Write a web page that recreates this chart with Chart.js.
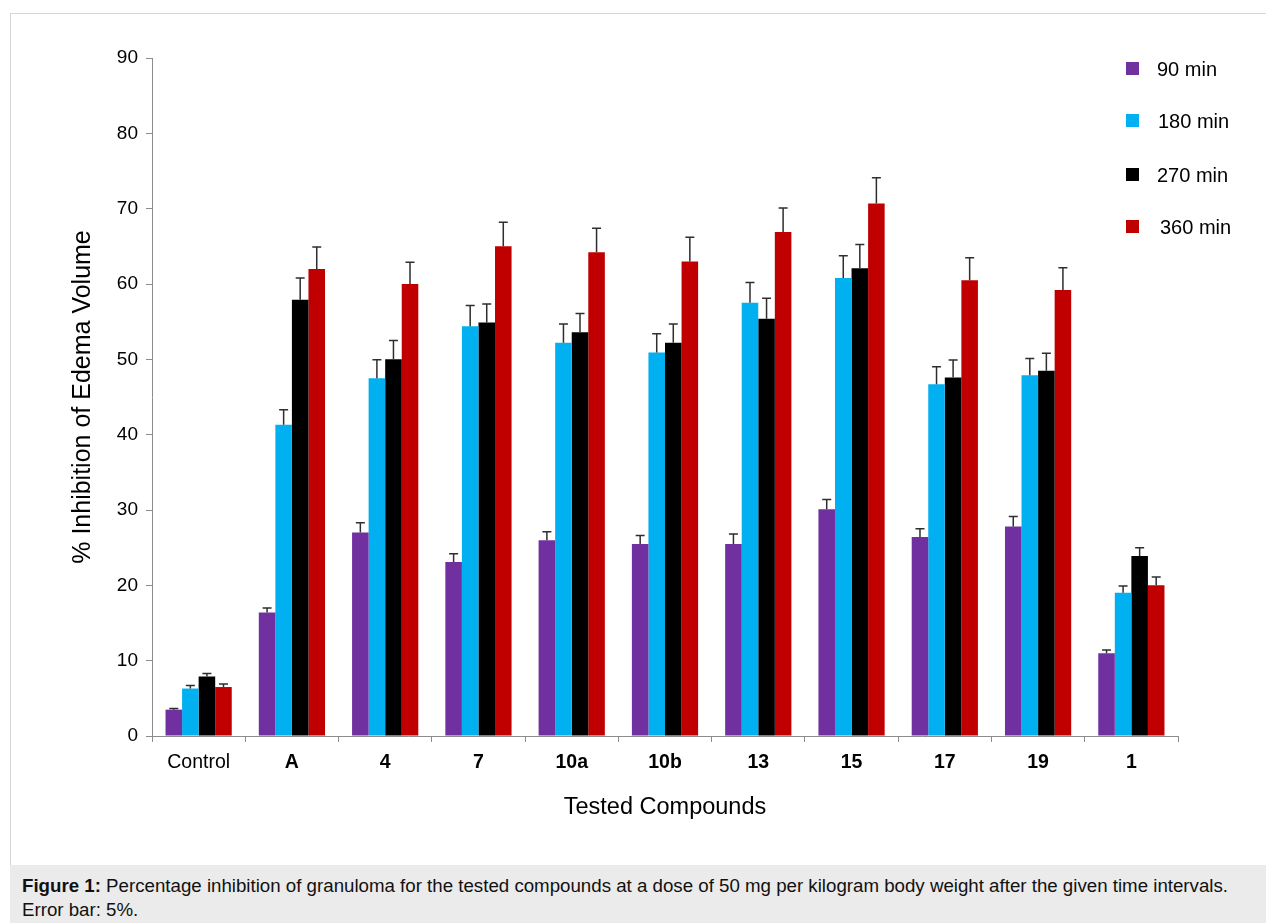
<!DOCTYPE html>
<html>
<head>
<meta charset="utf-8">
<script src="https://cdn.jsdelivr.net/npm/chart.js@4.4.1/dist/chart.umd.min.js"></script>
<style>
  body { margin: 0; background: #fff; font-family: "Liberation Sans", Arial, sans-serif; }
  #frame { position: absolute; left: 10px; top: 13px; width: 1256px; height: 852px;
           border-top: 1px solid #d6d6d6; border-left: 1px solid #d6d6d6; }
  #wrap { position: absolute; left: 0; top: 0; width: 1266px; height: 865px; }
  #caption { position: absolute; left: 10px; top: 865px; width: 1244px;
             background: #ebebeb; padding-left: 12px; padding-top: 9px; height: 49px;
             font-size: 18.7px; line-height: 24px; color: #111; }
</style>
</head>
<body>
<div id="frame"></div>
<div id="wrap"><canvas id="edemaChart"></canvas></div>
<div id="caption"><b>Figure 1:</b> Percentage inhibition of granuloma for the tested compounds at a dose of 50 mg per kilogram body weight after the given time intervals.<br>Error bar: 5%.</div>
<script>
const compounds = ['Control', 'A', '4', '7', '10a', '10b', '13', '15', '17', '19', '1'];
const yTicks = [0, 10, 20, 30, 40, 50, 60, 70, 80, 90];

const min90 = [3.5, 16.4, 27.0, 23.1, 26.0, 25.5, 25.5, 30.1, 26.4, 27.8, 11.0];
const min180 = [6.3, 41.3, 47.5, 54.4, 52.2, 50.9, 57.5, 60.8, 46.7, 47.9, 19.0];
const min270 = [7.9, 57.9, 50.0, 54.9, 53.6, 52.2, 55.4, 62.1, 47.6, 48.5, 23.9];
const min360 = [6.5, 62.0, 60.0, 65.0, 64.2, 63.0, 66.9, 70.7, 60.5, 59.2, 20.0];

const err90 = [0.15, 0.6, 1.3, 1.1, 1.1, 1.1, 1.3, 1.3, 1.1, 1.35, 0.4];
const err180 = [0.4, 2.0, 2.45, 2.75, 2.5, 2.5, 2.7, 2.95, 2.3, 2.2, 0.9];
const err270 = [0.4, 2.9, 2.5, 2.45, 2.5, 2.5, 2.7, 3.15, 2.3, 2.3, 1.1];
const err360 = [0.4, 2.9, 2.9, 3.2, 3.2, 3.2, 3.2, 3.4, 3.0, 2.95, 1.1];

const FONT = '"Liberation Sans", Arial, sans-serif';

const errorBars = {
  id: 'errorBars',
  afterDatasetsDraw(chart) {
    const ctx = chart.ctx;
    const y = chart.scales.y;
    ctx.save();
    ctx.strokeStyle = '#2e2e2e';
    ctx.lineWidth = 1.5;
    chart.data.datasets.forEach((ds, i) => {
      const meta = chart.getDatasetMeta(i);
      meta.data.forEach((bar, j) => {
        const top = y.getPixelForValue(ds.data[j] + ds.errors[j]);
        ctx.beginPath();
        ctx.moveTo(bar.x, bar.y);
        ctx.lineTo(bar.x, top);
        ctx.moveTo(bar.x - 4.5, top);
        ctx.lineTo(bar.x + 4.5, top);
        ctx.stroke();
      });
    });
    ctx.restore();
  }
};

// legend drawn in the upper right, over the plot
const sideLegend = {
  id: 'sideLegend',
  afterDraw(chart) {
    const ctx = chart.ctx;
    const rows = [69, 121, 175, 227];
    const textX = [1157, 1158, 1157, 1160];
    ctx.save();
    ctx.font = '20px ' + FONT;
    ctx.textBaseline = 'middle';
    chart.data.datasets.forEach((ds, i) => {
      ctx.fillStyle = ds.backgroundColor;
      ctx.fillRect(1126, rows[i] - 7, 13, 13);
      ctx.fillStyle = '#000';
      ctx.fillText(ds.label, textX[i], rows[i] + 1);
    });
    ctx.restore();
  }
};

const ctx = document.getElementById('edemaChart').getContext('2d');
new Chart(ctx, {
  type: 'bar',
  data: {
    labels: compounds,
    datasets: [
      { label: '90 min', backgroundColor: '#7030A0', data: min90, errors: err90 },
      { label: '180 min', backgroundColor: '#00B0F0', data: min180, errors: err180 },
      { label: '270 min', backgroundColor: '#000000', data: min270, errors: err270 },
      { label: '360 min', backgroundColor: '#C00000', data: min360, errors: err360 }
    ]
  },
  options: {
    responsive: true,
    maintainAspectRatio: false,
    animation: false,
    categoryPercentage: 0.71,
    barPercentage: 1.0,
    layout: { padding: { left: 64, right: 88, top: 58, bottom: 39 } },
    plugins: {
      legend: { display: false },
      tooltip: { enabled: false }
    },
    scales: {
      x: {
        afterFit: (s) => { s.height = 90; },
        border: { color: '#8c8c8c', width: 1 },
        grid: { offset: true, drawOnChartArea: false, tickLength: 6, color: '#8c8c8c' },
        ticks: {
          color: '#000',
          padding: 9,
          font: (c) => ({ family: FONT, size: 19.5, weight: c.index === 0 ? 'normal' : 'bold' })
        },
        title: {
          display: true,
          text: 'Tested Compounds',
          color: '#000',
          font: { family: FONT, size: 23.5 }
        }
      },
      y: {
        min: 0,
        max: 90,
        afterFit: (s) => { s.width = 88; },
        afterBuildTicks: (s) => { s.ticks = yTicks.map(v => ({ value: v })); },
        border: { color: '#8c8c8c', width: 1 },
        grid: { drawOnChartArea: false, tickLength: 6, color: '#8c8c8c' },
        ticks: {
          color: '#000',
          padding: 8,
          font: { family: FONT, size: 19 }
        },
        title: {
          display: true,
          text: '% Inhibition of Edema Volume',
          color: '#000',
          font: { family: FONT, size: 25 }
        }
      }
    }
  },
  plugins: [errorBars, sideLegend]
});
</script>
</body>
</html>
